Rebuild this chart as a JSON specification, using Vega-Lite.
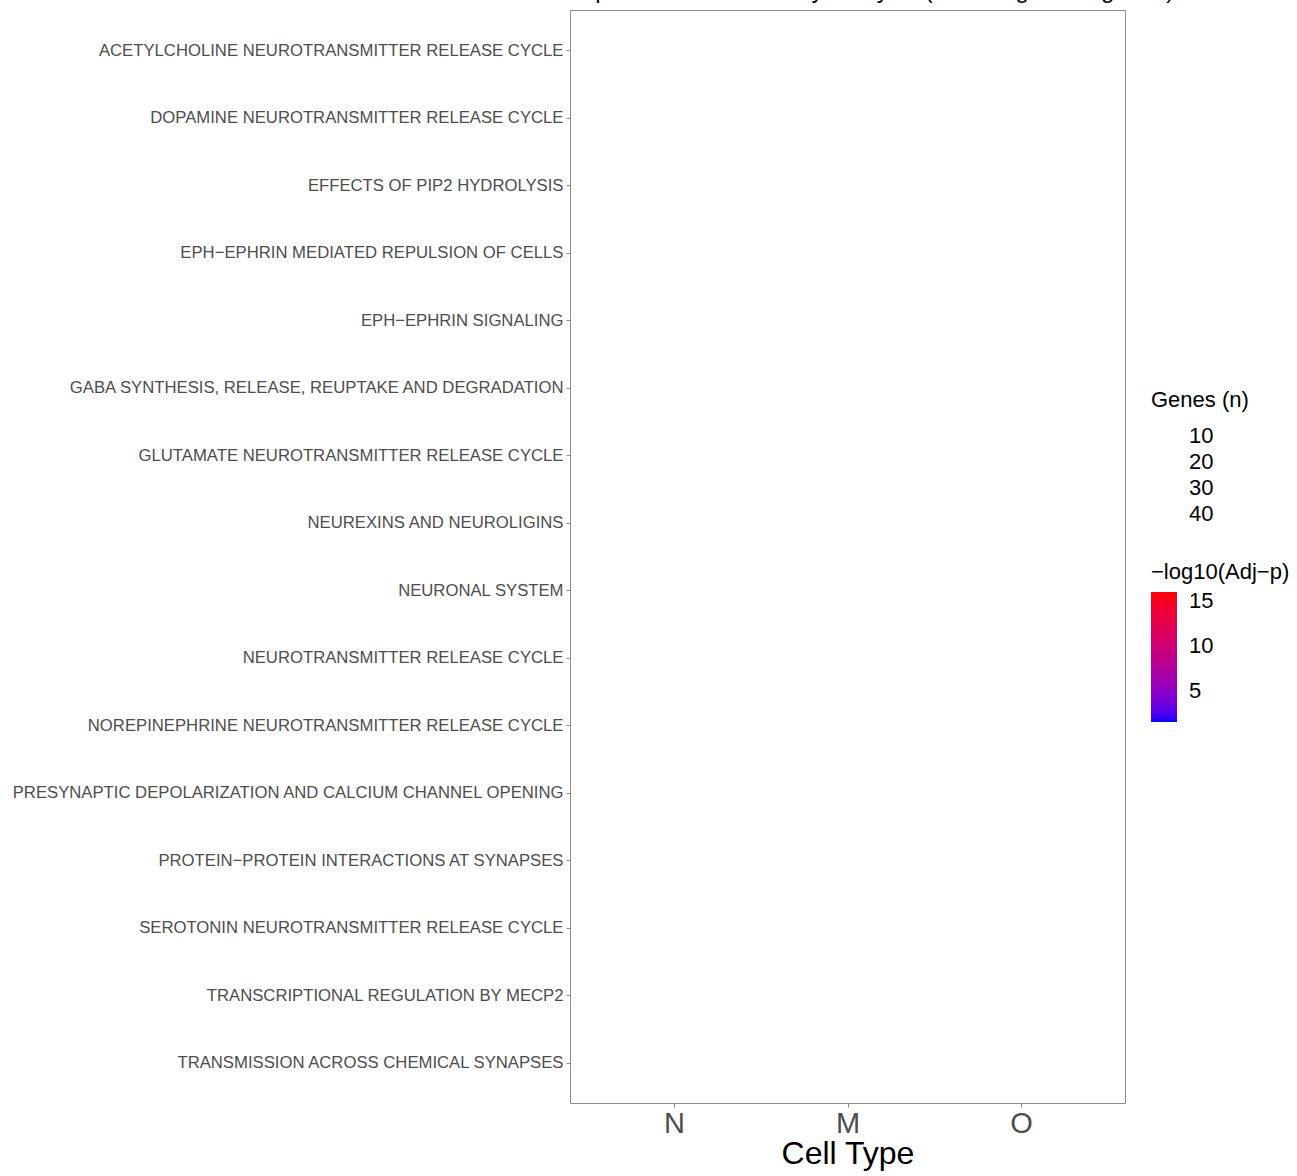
{
  "$schema": "https://vega.github.io/schema/vega-lite/v6.json",
  "width": 555,
  "height": 1093,
  "autosize": {"type": "none"},
  "padding": {"left": 570, "top": 10, "right": 172, "bottom": 73},
  "background": "white",
  "title": {
    "text": "Top Reactome Pathway Analysis (Downregulated genes)",
    "anchor": "start",
    "frame": "group",
    "font": "Liberation Sans",
    "fontSize": 24,
    "fontWeight": "normal",
    "color": "black",
    "baseline": "alphabetic",
    "offset": 0,
    "dy": 11.5
  },
  "data": {
    "values": [
      {"pathway": "ACETYLCHOLINE NEUROTRANSMITTER RELEASE CYCLE", "cell_type": "N", "genes": 9, "neg_log10_padj": 5.2},
      {"pathway": "DOPAMINE NEUROTRANSMITTER RELEASE CYCLE", "cell_type": "N", "genes": 8, "neg_log10_padj": 4.1},
      {"pathway": "EFFECTS OF PIP2 HYDROLYSIS", "cell_type": "N", "genes": 12, "neg_log10_padj": 6.3},
      {"pathway": "EPH−EPHRIN MEDIATED REPULSION OF CELLS", "cell_type": "N", "genes": 14, "neg_log10_padj": 5.8},
      {"pathway": "EPH−EPHRIN SIGNALING", "cell_type": "N", "genes": 20, "neg_log10_padj": 7.4},
      {"pathway": "GABA SYNTHESIS, RELEASE, REUPTAKE AND DEGRADATION", "cell_type": "N", "genes": 10, "neg_log10_padj": 4.9},
      {"pathway": "GLUTAMATE NEUROTRANSMITTER RELEASE CYCLE", "cell_type": "N", "genes": 13, "neg_log10_padj": 8.2},
      {"pathway": "NEUREXINS AND NEUROLIGINS", "cell_type": "N", "genes": 18, "neg_log10_padj": 9.1},
      {"pathway": "NEURONAL SYSTEM", "cell_type": "N", "genes": 45, "neg_log10_padj": 16.0},
      {"pathway": "NEUROTRANSMITTER RELEASE CYCLE", "cell_type": "N", "genes": 16, "neg_log10_padj": 9.8},
      {"pathway": "NOREPINEPHRINE NEUROTRANSMITTER RELEASE CYCLE", "cell_type": "N", "genes": 10, "neg_log10_padj": 5.5},
      {"pathway": "PRESYNAPTIC DEPOLARIZATION AND CALCIUM CHANNEL OPENING", "cell_type": "N", "genes": 9, "neg_log10_padj": 6.0},
      {"pathway": "PROTEIN−PROTEIN INTERACTIONS AT SYNAPSES", "cell_type": "N", "genes": 22, "neg_log10_padj": 10.7},
      {"pathway": "SEROTONIN NEUROTRANSMITTER RELEASE CYCLE", "cell_type": "N", "genes": 8, "neg_log10_padj": 4.6},
      {"pathway": "TRANSCRIPTIONAL REGULATION BY MECP2", "cell_type": "N", "genes": 15, "neg_log10_padj": 3.2},
      {"pathway": "TRANSMISSION ACROSS CHEMICAL SYNAPSES", "cell_type": "N", "genes": 34, "neg_log10_padj": 13.9},
      {"pathway": "NEURONAL SYSTEM", "cell_type": "M", "genes": 20, "neg_log10_padj": 3.5},
      {"pathway": "TRANSMISSION ACROSS CHEMICAL SYNAPSES", "cell_type": "M", "genes": 14, "neg_log10_padj": 2.4},
      {"pathway": "EPH−EPHRIN SIGNALING", "cell_type": "M", "genes": 9, "neg_log10_padj": 1.56},
      {"pathway": "NEURONAL SYSTEM", "cell_type": "O", "genes": 12, "neg_log10_padj": 2.1}
    ]
  },
  "mark": {"type": "circle", "opacity": 0},
  "encoding": {
    "x": {
      "field": "cell_type",
      "type": "nominal",
      "sort": ["N", "M", "O"],
      "scale": {"type": "point", "padding": 0.6},
      "axis": {
        "title": "Cell Type",
        "titleFont": "Liberation Sans",
        "titleFontSize": 32,
        "titleFontWeight": "normal",
        "titleColor": "black",
        "titlePadding": 0,
        "labelFont": "Liberation Sans",
        "labelFontSize": 29,
        "labelColor": "#4d4d4d",
        "labelAngle": 0,
        "labelPadding": 2,
        "tickColor": "#8c8c8c",
        "tickSize": 4
      }
    },
    "y": {
      "field": "pathway",
      "type": "nominal",
      "sort": [
        "ACETYLCHOLINE NEUROTRANSMITTER RELEASE CYCLE",
        "DOPAMINE NEUROTRANSMITTER RELEASE CYCLE",
        "EFFECTS OF PIP2 HYDROLYSIS",
        "EPH−EPHRIN MEDIATED REPULSION OF CELLS",
        "EPH−EPHRIN SIGNALING",
        "GABA SYNTHESIS, RELEASE, REUPTAKE AND DEGRADATION",
        "GLUTAMATE NEUROTRANSMITTER RELEASE CYCLE",
        "NEUREXINS AND NEUROLIGINS",
        "NEURONAL SYSTEM",
        "NEUROTRANSMITTER RELEASE CYCLE",
        "NOREPINEPHRINE NEUROTRANSMITTER RELEASE CYCLE",
        "PRESYNAPTIC DEPOLARIZATION AND CALCIUM CHANNEL OPENING",
        "PROTEIN−PROTEIN INTERACTIONS AT SYNAPSES",
        "SEROTONIN NEUROTRANSMITTER RELEASE CYCLE",
        "TRANSCRIPTIONAL REGULATION BY MECP2",
        "TRANSMISSION ACROSS CHEMICAL SYNAPSES"
      ],
      "scale": {"type": "point", "padding": 0.6},
      "axis": {
        "title": null,
        "labelFont": "Liberation Sans",
        "labelFontSize": 16.7,
        "labelColor": "#4d4d4d",
        "labelPadding": 3,
        "labelLimit": 0,
        "tickColor": "#8c8c8c",
        "tickSize": 4
      }
    },
    "size": {
      "field": "genes",
      "type": "quantitative",
      "title": "Genes (n)",
      "legend": {
        "orient": "none",
        "legendX": 581,
        "legendY": 380,
        "values": [10, 20, 30, 40],
        "symbolOpacity": 0,
        "symbolStrokeWidth": 0,
        "symbolSize": 300,
        "padding": 0,
        "rowPadding": 4,
        "labelOffset": 16,
        "labelFont": "Liberation Sans",
        "labelFontSize": 22,
        "labelColor": "black",
        "titleFont": "Liberation Sans",
        "titleFontSize": 22,
        "titleFontWeight": "normal",
        "titleColor": "black",
        "titlePadding": 13
      }
    },
    "color": {
      "field": "neg_log10_padj",
      "type": "quantitative",
      "title": "−log10(Adj−p)",
      "scale": {"domain": [1.56, 16], "range": ["#0000ff", "#ff0000"], "interpolate": "lab"},
      "legend": {
        "orient": "none",
        "legendX": 581,
        "legendY": 552,
        "values": [5, 10, 15],
        "gradientLength": 130,
        "gradientThickness": 26,
        "gradientStrokeWidth": 0,
        "padding": 0,
        "labelOffset": 12,
        "labelOverlap": false,
        "labelFont": "Liberation Sans",
        "labelFontSize": 22,
        "labelColor": "black",
        "titleFont": "Liberation Sans",
        "titleFontSize": 22,
        "titleFontWeight": "normal",
        "titleColor": "black",
        "titlePadding": 8
      }
    }
  },
  "config": {
    "view": {"stroke": "#8c8c8c", "strokeWidth": 1},
    "axis": {"grid": false, "domain": false}
  }
}
